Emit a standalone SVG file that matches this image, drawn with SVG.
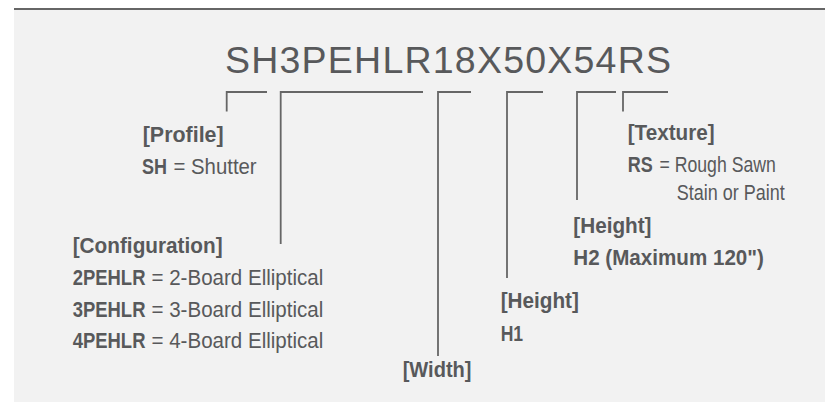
<svg xmlns="http://www.w3.org/2000/svg" width="825" height="402" viewBox="0 0 825 402">
<style>
.t{font-family:"Liberation Sans",Arial,sans-serif;fill:#58595b;font-size:22.5px}
.b{font-weight:bold}
.r{font-weight:normal}
.ln{stroke:#666;stroke-width:1.8;fill:none}
</style>
<rect x="0" y="0" width="825" height="402" fill="#ffffff"/>
<rect x="14" y="8" width="811" height="394" fill="#f2f2f2"/>
<line x1="14" y1="9" x2="825" y2="9" stroke="#666" stroke-width="2"/>
<g id="title">
<text class="t" x="225" y="73.3" style="font-size:37.5px" textLength="446" lengthAdjust="spacing">SH3PEHLR18X50X54RS</text>
</g>
<g id="connectors">
<path class="ln" d="M226.7,111.5 V92 H267"/>
<path class="ln" d="M280.7,244 V92 H423"/>
<path class="ln" d="M438,356 V92 H471"/>
<path class="ln" d="M507,278 V92 H543"/>
<path class="ln" d="M577,200 V92 H616"/>
<path class="ln" d="M623,111.5 V92 H668"/>
</g>
<g id="profile">
<text class="t b" transform="translate(142.7,141.5) scale(0.953,1)">[Profile]</text>
<text class="t b" transform="translate(142,174) scale(0.8,1)">SH</text>
<text class="t r" transform="translate(173.5,174) scale(0.905,1)">= Shutter</text>
</g>
<g id="configuration">
<text class="t b" transform="translate(72.7,252.5) scale(0.923,1)">[Configuration]</text>
<text class="t b" transform="translate(72.7,285) scale(0.82,1)">2PEHLR</text>
<text class="t r" transform="translate(151.5,285) scale(0.913,1)">= 2-Board Elliptical</text>
<text class="t b" transform="translate(72.7,316.5) scale(0.82,1)">3PEHLR</text>
<text class="t r" transform="translate(151.5,316.5) scale(0.913,1)">= 3-Board Elliptical</text>
<text class="t b" transform="translate(72.7,348) scale(0.82,1)">4PEHLR</text>
<text class="t r" transform="translate(151.5,348) scale(0.913,1)">= 4-Board Elliptical</text>
</g>
<g id="width">
<text class="t b" transform="translate(402.7,377) scale(0.891,1)">[Width]</text>
</g>
<g id="height1">
<text class="t b" transform="translate(500.7,307.5) scale(0.921,1)">[Height]</text>
<text class="t b" transform="translate(500.7,341) scale(0.78,1)">H1</text>
</g>
<g id="height2">
<text class="t b" transform="translate(573.3,232.5) scale(0.921,1)">[Height]</text>
<text class="t b" transform="translate(573.3,265) scale(0.916,1)">H2 (Maximum 120")</text>
</g>
<g id="texture">
<text class="t b" transform="translate(627.7,140) scale(0.92,1)">[Texture]</text>
<text class="t b" transform="translate(627.7,172) scale(0.8,1)">RS</text>
<text class="t r" transform="translate(659.5,172) scale(0.785,1)">= Rough Sawn</text>
<text class="t r" transform="translate(676.7,200) scale(0.8,1)">Stain or Paint</text>
</g>
</svg>
